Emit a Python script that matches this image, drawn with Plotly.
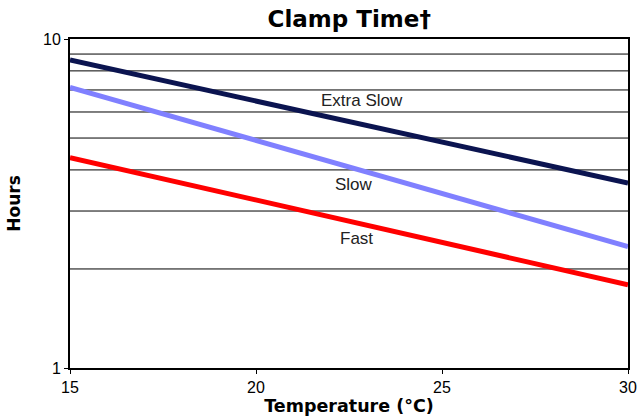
import math
import plotly.graph_objects as go

temps = [15, 20, 25, 30]
extra_slow = [8.63, 6.48, 4.86, 3.65]
slow = [7.13, 4.92, 3.39, 2.34]
fast = [4.36, 3.24, 2.40, 1.79]

series = [
    ("Extra Slow", extra_slow, "#0b1450"),
    ("Slow", slow, "#8080ff"),
    ("Fast", fast, "#ff0000"),
]
label_pos = {"Extra Slow": (22.85, 6.48), "Slow": (22.63, 3.6), "Fast": (22.69, 2.47)}

grid_vals = [2, 3, 4, 5, 6, 7, 8, 9]

BOLD = "DejaVu Sans, Liberation Sans, Arial"

fig = go.Figure()
for g in grid_vals:
    fig.add_trace(go.Scatter(x=[15, 30], y=[g, g], mode="lines", hoverinfo="skip",
                             line=dict(color="#000000", width=1), showlegend=False))
for name, vals, col in series:
    fig.add_trace(go.Scatter(x=temps, y=vals, mode="lines", name=name,
                             line=dict(color=col, width=5), showlegend=False))

for name, (lx, ly) in label_pos.items():
    fig.add_annotation(x=lx, y=math.log10(ly), yref="y", xref="x", text=name, showarrow=False,
                       font=dict(size=17, color="#222222", family="Liberation Sans, Arial"))

fig.update_layout(
    width=642, height=419,
    margin=dict(l=70, r=14, t=39, b=51),
    paper_bgcolor="white", plot_bgcolor="white",
    font=dict(family="Liberation Sans, Arial", color="black", size=14),
    title=dict(text="<b>Clamp Time†</b>", x=0.544, xanchor="center", y=0.955, yanchor="middle",
               font=dict(size=23, color="black", family=BOLD)),
)
fig.update_xaxes(range=[15, 30], tickvals=[15, 20, 25, 30], showgrid=False, automargin=False,
                 showline=True, linecolor="black", linewidth=2, mirror=True,
                 ticks="outside", ticklen=4, tickcolor="black",
                 title=dict(text="<b>Temperature (°C)</b>", standoff=0,
                            font=dict(size=17.5, family=BOLD)),
                 tickfont=dict(size=16), zeroline=False)
fig.update_yaxes(type="log", range=[0, 1], tickvals=[1, 10], ticktext=["1", "10"],
                 showgrid=False, showline=True, linecolor="black", linewidth=2, mirror=True,
                 automargin=False,
                 ticks="outside", ticklen=4, tickcolor="black",
                 title=dict(text="<b>Hours</b>", standoff=18, font=dict(size=17, family=BOLD)),
                 tickfont=dict(size=16), zeroline=False)

fig.write_html("out.html", config={"displayModeBar": False},
               post_script="document.body.style.margin='0';")
